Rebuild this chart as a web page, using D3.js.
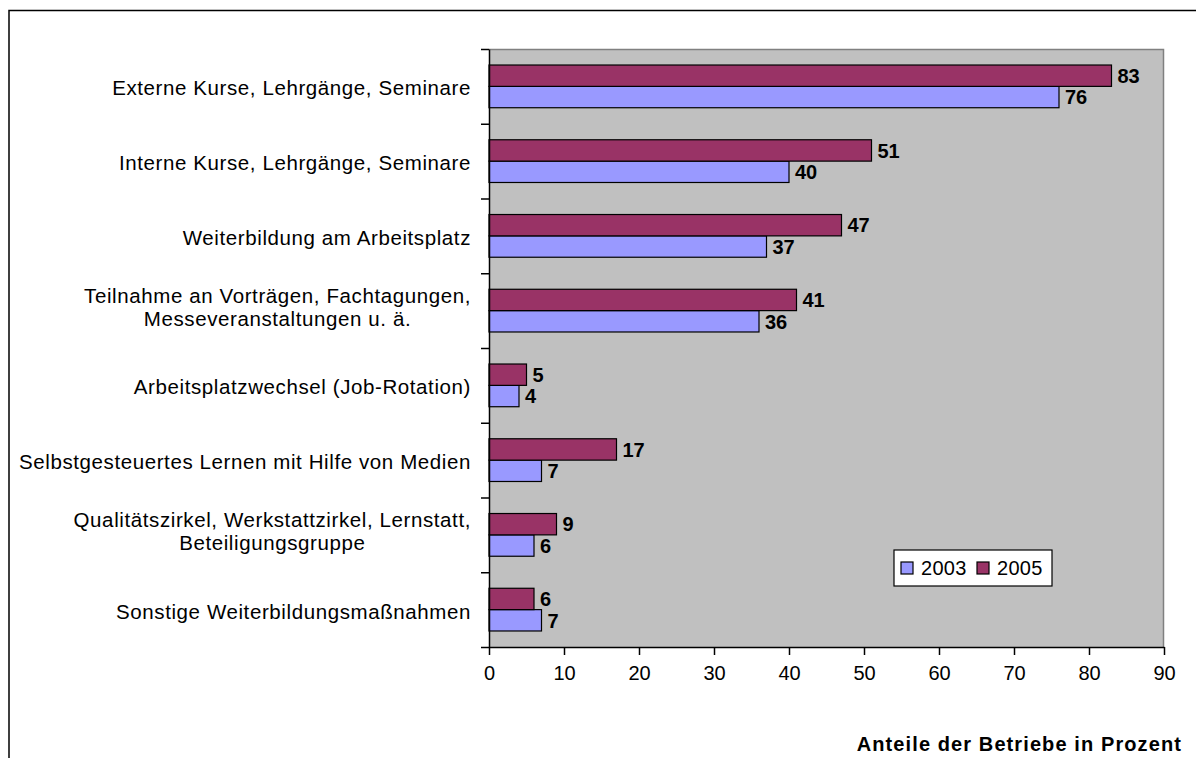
<!DOCTYPE html>
<html>
<head>
<meta charset="utf-8">
<script src="https://cdn.jsdelivr.net/npm/d3@7"></script>
<style>
  html, body { margin: 0; padding: 0; background: #ffffff; }
  svg { display: block; }
  text { font-family: "Liberation Sans", Arial, sans-serif; fill: #000; }
</style>
</head>
<body>
<svg id="chart" width="1196" height="758"></svg>
<script>
// Weiterbildungsformen: Anteile der Betriebe in Prozent, 2003 und 2005
const categories = [
  ["Externe Kurse, Lehrgänge, Seminare"],
  ["Interne Kurse, Lehrgänge, Seminare"],
  ["Weiterbildung am Arbeitsplatz"],
  ["Teilnahme an Vorträgen, Fachtagungen,", "Messeveranstaltungen u. ä."],
  ["Arbeitsplatzwechsel (Job-Rotation)"],
  ["Selbstgesteuertes Lernen mit Hilfe von Medien"],
  ["Qualitätszirkel, Werkstattzirkel, Lernstatt,", "Beteiligungsgruppe"],
  ["Sonstige Weiterbildungsmaßnahmen"]
];
const values2003 = [76, 40, 37, 36, 4, 7, 6, 7];
const values2005 = [83, 51, 47, 41, 5, 17, 9, 6];
const seriesNames = ["2003", "2005"];
const xTicks = [0, 10, 20, 30, 40, 50, 60, 70, 80, 90];
const axisTitle = "Anteile der Betriebe in Prozent";

const colors = { "2003": "#9999FF", "2005": "#993366" };

const svg = d3.select("#chart");

// outer chart frame (runs off the right and bottom edges)
svg.append("rect")
  .attr("x", 9).attr("y", 10.5)
  .attr("width", 1300).attr("height", 900)
  .attr("fill", "none").attr("stroke", "#000").attr("stroke-width", 1.5);

const plot = { left: 489, right: 1164, top: 49, bottom: 647 };

const x = d3.scaleLinear().domain([0, 90]).range([plot.left, plot.right]);
const idx = d3.range(categories.length);
const y = d3.scaleBand().domain(idx).range([plot.top, plot.bottom]).padding(0);
// within each category: 2005 above 2003, 150% gap
const ySub = d3.scaleBand().domain(["2005", "2003"]).range([0, y.bandwidth()])
  .paddingInner(0).paddingOuter(0.75);

// plot background
svg.append("rect")
  .attr("x", plot.left).attr("y", plot.top)
  .attr("width", plot.right - plot.left).attr("height", plot.bottom - plot.top)
  .attr("fill", "#C0C0C0");
svg.append("path")
  .attr("d", `M${plot.left},${plot.top + 0.5}H${plot.right - 0.5}V${plot.bottom}`)
  .attr("fill", "none").attr("stroke", "#808080").attr("stroke-width", 1.5);

// bars
const rows = idx.map(i => ({ i, "2003": values2003[i], "2005": values2005[i] }));
const groups = svg.append("g").selectAll("g").data(rows).join("g")
  .attr("transform", d => `translate(0,${y(d.i)})`);

seriesNames.forEach(s => {
  groups.append("rect")
    .attr("x", x(0))
    .attr("y", ySub(s))
    .attr("width", d => x(d[s]) - x(0))
    .attr("height", ySub.bandwidth())
    .attr("fill", colors[s])
    .attr("stroke", "#000").attr("stroke-width", 1.2);
  groups.append("text")
    .attr("x", d => x(d[s]) + 6)
    .attr("y", ySub(s) + ySub.bandwidth() / 2 + 7.2)
    .attr("font-size", 20).attr("font-weight", "bold")
    .text(d => d[s]);
});

// y axis: ticks at category boundaries
const yEdge = d3.scaleLinear().domain([0, categories.length]).range([plot.top, plot.bottom]);
const yAxis = svg.append("g")
  .attr("transform", `translate(${plot.left},0)`)
  .call(d3.axisLeft(yEdge).tickValues(d3.range(categories.length + 1)).tickFormat("").tickSize(8).tickSizeOuter(0));
yAxis.select(".domain").attr("stroke", "#000").attr("stroke-width", 1.5);
yAxis.selectAll(".tick line").attr("stroke", "#000").attr("stroke-width", 1.5);

// category labels, block right-aligned to the axis, lines centred on each other
const lineH = 23;
const labels = svg.append("g").selectAll("text").data(idx).join("text")
  .attr("font-size", 20.5).attr("letter-spacing", 0.6)
  .attr("text-anchor", "middle");
labels.each(function (i) {
  const lines = categories[i];
  const t = d3.select(this);
  const cy = y(i) + y.bandwidth() / 2;
  const base = lines.length === 1 ? cy + 9 : cy - 7.5;
  lines.forEach((ln, k) => {
    t.append("tspan").attr("y", base + k * lineH).text(ln);
  });
});
labels.each(function () {
  const t = d3.select(this);
  const widths = [];
  t.selectAll("tspan").each(function () { widths.push(this.getComputedTextLength()); });
  const w = d3.max(widths);
  t.selectAll("tspan").attr("x", 471 - w / 2);
});

// x axis
const xAxis = svg.append("g")
  .attr("transform", `translate(0,${plot.bottom})`)
  .call(d3.axisBottom(x).tickValues(xTicks).tickFormat(d3.format("d")).tickSize(8).tickPadding(11).tickSizeOuter(0));
xAxis.select(".domain").attr("stroke", "#000").attr("stroke-width", 1.5);
xAxis.selectAll(".tick line").attr("stroke", "#000").attr("stroke-width", 1.5);
xAxis.selectAll(".tick text")
  .attr("font-size", 20)
  .attr("font-family", "\"Liberation Sans\", Arial, sans-serif").attr("fill", "#000");

// axis title
svg.append("text")
  .attr("x", 1182).attr("y", 751)
  .attr("text-anchor", "end")
  .attr("font-size", 20).attr("font-weight", "bold").attr("letter-spacing", 1.1)
  .text(axisTitle);

// legend
const legend = svg.append("g").attr("transform", "translate(894,550)");
legend.append("rect").attr("width", 158).attr("height", 36)
  .attr("fill", "#fff").attr("stroke", "#000").attr("stroke-width", 1.2);
const legendX = [7, 83];
seriesNames.forEach((s, k) => {
  legend.append("rect")
    .attr("x", legendX[k]).attr("y", 12).attr("width", 12).attr("height", 12)
    .attr("fill", colors[s]).attr("stroke", "#000").attr("stroke-width", 1.2);
  legend.append("text")
    .attr("x", legendX[k] + 20).attr("y", 24.5)
    .attr("font-size", 20).attr("letter-spacing", 0.3)
    .text(s);
});
</script>
</body>
</html>
